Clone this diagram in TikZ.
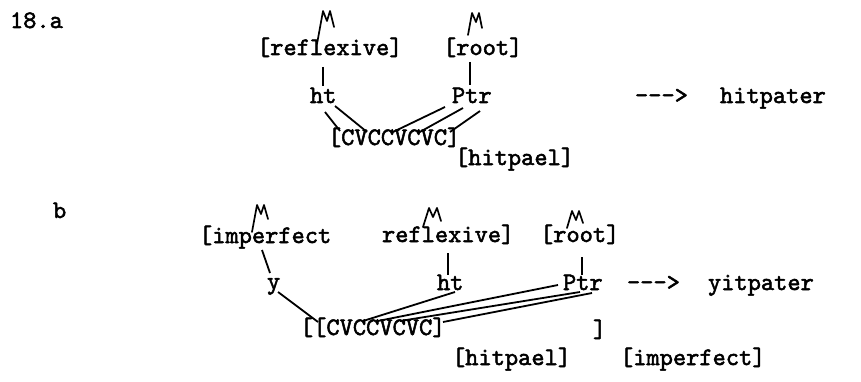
\documentclass[tikz,border=0pt]{standalone}
\usepackage{fontspec}
\newfontfamily\monofam{lmmono10-regular.otf}[FakeBold=2]
\newcommand{\monotext}{\monofam\fontsize{25.2}{28}\selectfont}
\tikzset{
  txt/.style={anchor=base west, inner sep=0pt, outer sep=0pt, font=\monotext},
  ln/.style={line width=1.8pt},
  mumark/.style={line width=1.7pt, line join=round, line cap=round}
}
\begin{document}
\begin{tikzpicture}[x=1pt,y=-1pt]
\useasboundingbox (0,0) rectangle (861,382);
\fill[white] (0,0) rectangle (861,382);
% ---------- part a ----------
\node[txt] (lbla) at (10,28) {18.a};
\node[txt] (reflA) at (257,55) {[reflexive]};
\node[txt] (rootA) at (443,55) {[root]};
\node[txt] (htA) at (310,103) {ht};
\node[txt] (PtrA) at (452,103) {Ptr};
\node[txt] (arrA) at (635,103) {-{}-{}->};
\node[txt] (outA) at (720,103) {hitpater};
\node[txt] (cvA) at (328,145) {[CVCCVCVC]};
\node[txt] (hitpaelA) at (455,165) {[hitpael]};
% mu marks a
\draw[mumark] (317,44) -- (323,11) -- (327,21) -- (330,11) -- (334,27);
\draw[mumark] (468,35) -- (472,13) -- (476,22) -- (479,13) -- (482,28);
% connector ends a
\coordinate (reflAb) at (323,67); \coordinate (htAt) at (323,86);
\coordinate (rootAb) at (470,62); \coordinate (PtrAt) at (470,85);
\coordinate (hA) at (325,112); \coordinate (cA1) at (340,131);
\coordinate (tA) at (335,106); \coordinate (cA3) at (367,132);
\coordinate (PA) at (445,107); \coordinate (cA4) at (393,132);
\coordinate (tA2) at (463,108); \coordinate (cA6) at (418,133);
\coordinate (rA) at (480,111); \coordinate (cA8) at (450,132);
\draw[ln] (reflAb) -- (htAt);
\draw[ln] (rootAb) -- (PtrAt);
\draw[ln] (hA) -- (cA1);
\draw[ln] (tA) -- (cA3);
\draw[ln] (PA) -- (cA4);
\draw[ln] (tA2) -- (cA6);
\draw[ln] (rA) -- (cA8);
% ---------- part b ----------
\node[txt] (lblb) at (53,218) {b};
\node[txt] (imperf) at (199,243) {[imperfect};
\node[txt] (reflB) at (382,242) {reflexive]};
\node[txt] (rootB) at (540,242) {[root]};
\node[txt] (yB) at (267,289) {y};
\node[txt] (htB) at (437,290) {ht};
\node[txt] (PtrB) at (563,290) {Ptr};
\node[txt] (arrB) at (627,290) {-{}-{}->};
\node[txt] (outB) at (708,290) {yitpater};
\node[txt] (cvB) at (300,335) {[[CVCCVCVC]};
\node[txt] (brB) at (593,337) {]};
\node[txt] (hitpaelB) at (452,365) {[hitpael]};
\node[txt] (imperfB) at (620,365) {[imperfect]};
% mu marks b
\draw[mumark] (252,232) -- (257,205) -- (261,214) -- (264,205) -- (268,219);
\draw[mumark] (423,227) -- (429,208) -- (433,217) -- (437,208) -- (441,221);
\draw[mumark] (567,228) -- (572,211) -- (576,220) -- (579,211) -- (583,223);
% connector ends b
\coordinate (imperfb) at (262,250); \coordinate (yBt) at (270,273);
\coordinate (reflBb) at (448,253); \coordinate (htBt) at (448,275);
\coordinate (rootBb) at (582,257); \coordinate (PtrBt) at (582,275);
\coordinate (yBb) at (278,292); \coordinate (cB0) at (318,322);
\coordinate (htBb) at (455,292); \coordinate (cB3) at (363,321);
\coordinate (PB) at (558,285); \coordinate (cB4) at (378,321);
\coordinate (tB) at (580,292); \coordinate (cB6) at (400,321);
\coordinate (rB) at (592,293); \coordinate (cB8) at (443,322);
\draw[ln] (imperfb) -- (yBt);
\draw[ln] (reflBb) -- (htBt);
\draw[ln] (rootBb) -- (PtrBt);
\draw[ln] (yBb) -- (cB0);
\draw[ln] (htBb) -- (cB3);
\draw[ln] (PB) -- (cB4);
\draw[ln] (tB) -- (cB6);
\draw[ln] (rB) -- (cB8);
\end{tikzpicture}
\end{document}
